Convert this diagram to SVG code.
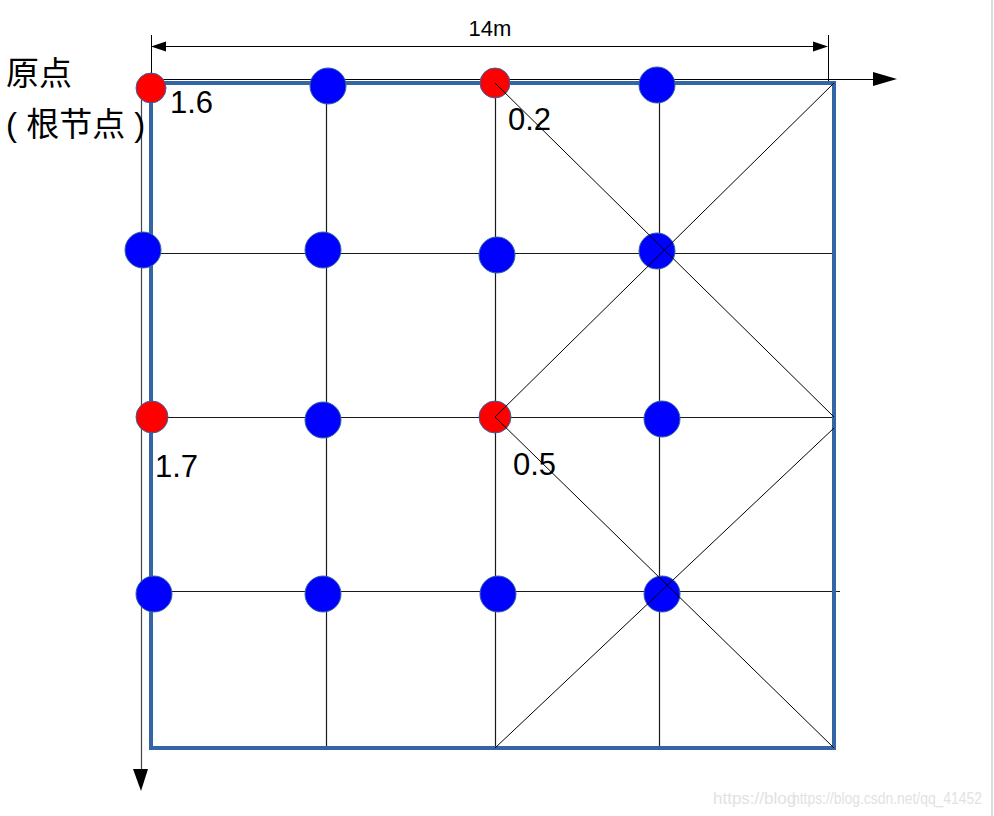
<svg xmlns="http://www.w3.org/2000/svg" width="994" height="816" viewBox="0 0 994 816">
<defs>
<style>
.grid{stroke:#1a1a1a;stroke-width:1.2;fill:none}
.diag{stroke:#000;stroke-width:1;fill:none}
.axis{stroke:#444;stroke-width:1.2;fill:none}
.dim{stroke:#000;stroke-width:1;fill:none}
.frame{stroke:#3465a4;stroke-width:4;fill:none}
.red{fill:#ff0000;stroke:#3465a4;stroke-width:1}
.blue{fill:#0000ff;stroke:#3465a4;stroke-width:1}
.lbl{font-family:"Liberation Sans","Noto Sans CJK SC",sans-serif;fill:#000}
.wm{font-family:"Liberation Sans",sans-serif;font-size:17px;fill:#e2e2e2}
</style>
</defs>
<rect width="994" height="816" fill="#fff"/>
<line x1="992" y1="0" x2="992" y2="816" stroke="#d0d0d0" stroke-width="1.5"/>
<g id="connectors">
  <line class="grid" x1="141" y1="253.5" x2="834" y2="253.5"/>
  <line class="grid" x1="141" y1="417.5" x2="834" y2="417.5"/>
  <line class="grid" x1="141" y1="591.5" x2="840" y2="591.5"/>
  <line class="grid" x1="326.5" y1="86" x2="326.5" y2="748"/>
  <line class="grid" x1="495.5" y1="83" x2="495.5" y2="748"/>
  <line class="grid" x1="659.5" y1="85" x2="659.5" y2="748"/>
  <line class="axis" x1="141.5" y1="100" x2="141.5" y2="770"/>
  <polygon points="133,769 148,769 141,791" fill="#000"/>
  <line class="dim" x1="151" y1="79.5" x2="875" y2="79.5"/>
  <polygon points="873,72 873,86 897,79" fill="#000"/>
  <line class="dim" x1="151.5" y1="35" x2="151.5" y2="80"/>
  <line class="dim" x1="828.5" y1="35" x2="828.5" y2="83"/>
  <line class="dim" x1="160" y1="46.5" x2="820" y2="46.5"/>
  <polygon points="151,46.5 166,41.5 166,51.5" fill="#000"/>
  <polygon points="828,46.5 813,41.5 813,51.5" fill="#000"/>
  <rect class="frame" x="151" y="83" width="683" height="665"/>
</g>
<g id="n1"><circle class="red" cx="151" cy="88" r="15"/></g>
<g id="n2"><circle class="blue" cx="328" cy="86" r="18"/></g>
<g id="n3"><circle class="red" cx="495" cy="83" r="15"/></g>
<g id="n4"><circle class="blue" cx="657" cy="85" r="18"/></g>
<g id="n5"><circle class="blue" cx="143" cy="250" r="18"/></g>
<g id="n6"><circle class="blue" cx="323" cy="250" r="18"/></g>
<g id="n7"><circle class="blue" cx="497" cy="255" r="18"/></g>
<g id="n8"><circle class="blue" cx="657" cy="251" r="18"/></g>
<g id="n9"><circle class="red" cx="152" cy="417" r="16"/></g>
<g id="n10"><circle class="blue" cx="323" cy="420" r="18"/></g>
<g id="n11"><circle class="red" cx="495" cy="417" r="16"/></g>
<g id="n12"><circle class="blue" cx="662" cy="419" r="18"/></g>
<g id="n13"><circle class="blue" cx="154" cy="594" r="18"/></g>
<g id="n14"><circle class="blue" cx="323" cy="594" r="18"/></g>
<g id="n15"><circle class="blue" cx="498" cy="594" r="18"/></g>
<g id="n16"><circle class="blue" cx="662" cy="594" r="18"/></g>
<g id="diagonals">
  <line class="diag" x1="495" y1="83" x2="834" y2="417"/>
  <line class="diag" x1="834" y1="83" x2="495" y2="417"/>
  <line class="diag" x1="495" y1="417" x2="834" y2="748"/>
  <line class="diag" x1="834" y1="428" x2="495" y2="748"/>
</g>
<g id="labels">
  <text class="lbl" x="490" y="36" font-size="22" text-anchor="middle">14m</text>
  <text class="lbl" x="6" y="85" font-size="33">原点</text>
  <text class="lbl" x="6" y="136" font-size="33">( 根节点 )</text>
  <text class="lbl" x="170" y="113" font-size="31">1.6</text>
  <text class="lbl" x="508" y="130" font-size="31">0.2</text>
  <text class="lbl" x="155" y="477" font-size="31">1.7</text>
  <text class="lbl" x="513" y="475" font-size="31">0.5</text>
</g>
<g id="watermark">
  <text class="wm" x="713" y="804">https://blog</text>
  <text class="wm" x="792" y="804" textLength="190" lengthAdjust="spacingAndGlyphs">https://blog.csdn.net/qq_41452</text>
</g>
</svg>
